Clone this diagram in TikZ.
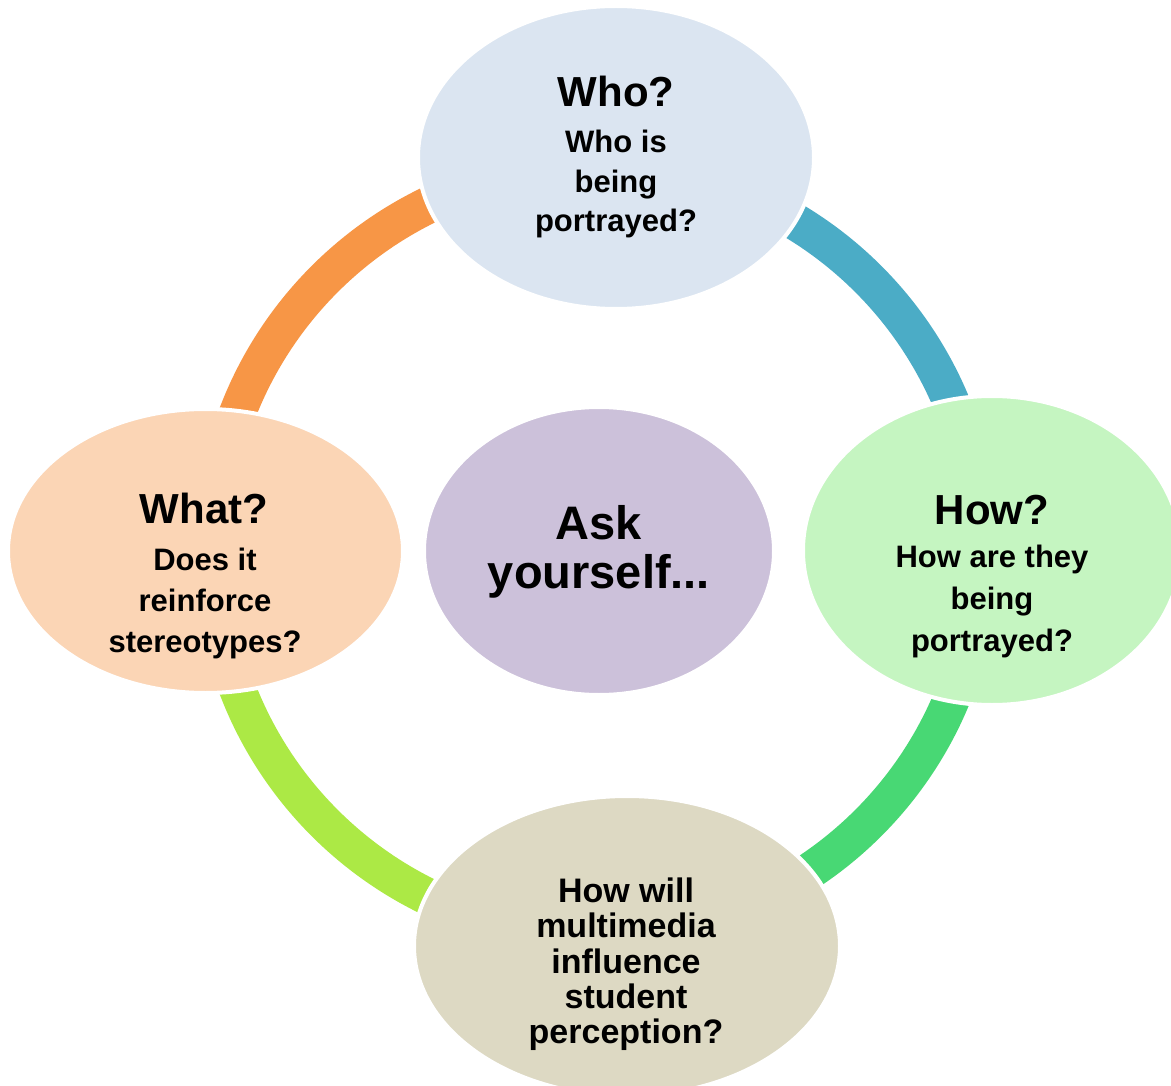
\documentclass[tikz,border=0pt]{standalone}
\usepackage{fontspec}
\setmainfont{Liberation Sans}
\usetikzlibrary{shapes.geometric}
\definecolor{topfill}{HTML}{DBE5F1}
\definecolor{rightfill}{HTML}{C5F5C1}
\definecolor{leftfill}{HTML}{FBD5B5}
\definecolor{botfill}{HTML}{DDD9C3}
\definecolor{midfill}{HTML}{CCC1DA}
\definecolor{arcblue}{HTML}{4BACC6}
\definecolor{arcorange}{HTML}{F79646}
\definecolor{arcgreen}{HTML}{48D874}
\definecolor{arclime}{HTML}{ACE945}
\tikzset{
  bubble/.style={ellipse, draw=white, line width=4pt, inner sep=0pt, outer sep=0pt},
  ringarc/.style={line width=37pt},
  title/.style={anchor=base, inner sep=0pt, font=\bfseries\fontsize{42}{46}\selectfont},
  sub/.style={anchor=base, inner sep=0pt, font=\bfseries\fontsize{31}{40}\selectfont},
  subbot/.style={anchor=base, inner sep=0pt, font=\bfseries\fontsize{34}{36}\selectfont},
  midtext/.style={anchor=base, inner sep=0pt, font=\bfseries\fontsize{47}{49}\selectfont},
}
\begin{document}
\begin{tikzpicture}[x=1pt,y=-1pt]
\useasboundingbox (0,0) rectangle (1171,1086);
\clip (0,0) rectangle (1171,1086);
\fill[white] (0,0) rectangle (1171,1086);
\coordinate (ring) at (596.5,551);
% ring segments
\draw[ringarc, arcblue]   (ring) ++(-90:384.5) arc[start angle=-90, end angle=0,   radius=384.5];
\draw[ringarc, arcgreen]  (ring) ++(0:384.5)   arc[start angle=0,   end angle=90,  radius=384.5];
\draw[ringarc, arclime]   (ring) ++(90:384.5)  arc[start angle=90,  end angle=180, radius=384.5];
\draw[ringarc, arcorange] (ring) ++(180:384.5) arc[start angle=180, end angle=270, radius=384.5];
% ellipses
\node[bubble, fill=topfill,   minimum width=396pt, minimum height=303pt] (who)  at (616,157.5) {};
\node[bubble, fill=rightfill, minimum width=378pt, minimum height=309pt] (how)  at (992,550.5) {};
\node[bubble, fill=leftfill,  minimum width=395pt, minimum height=284pt] (what) at (205.5,551) {};
\node[bubble, fill=midfill,   minimum width=350pt, minimum height=288pt] (ask)  at (599,551) {};
\node[bubble, fill=botfill,   minimum width=426pt, minimum height=300pt] (will) at (627,946) {};
% texts: top
\node[title] (whoT) at (616,107) {Who?};
\node[sub] (whoA) at (616,153) {Who is};
\node[sub] (whoB) at (616,193) {being};
\node[sub] (whoC) at (616,232) {portrayed?};
% right
\node[title] (howT) at (992,524) {How?};
\node[sub] (howA) at (992,567) {How are they};
\node[sub] (howB) at (992,609) {being};
\node[sub] (howC) at (992,651) {portrayed?};
% left
\node[title] (whatT) at (204,523) {What?};
\node[sub] (whatA) at (205,570) {Does it};
\node[sub] (whatB) at (205,611) {reinforce};
\node[sub] (whatC) at (205,652) {stereotypes?};
% center
\node[midtext] (askA) at (599,539) {Ask};
\node[midtext] (askB) at (599,588) {yourself...};
% bottom
\node[subbot] (willA) at (626,902) {How will};
\node[subbot] (willB) at (626,937) {multimedia};
\node[subbot] (willC) at (626,973) {influence};
\node[subbot] (willD) at (626,1008) {student};
\node[subbot] (willE) at (626,1043) {perception?};
\end{tikzpicture}
\end{document}
